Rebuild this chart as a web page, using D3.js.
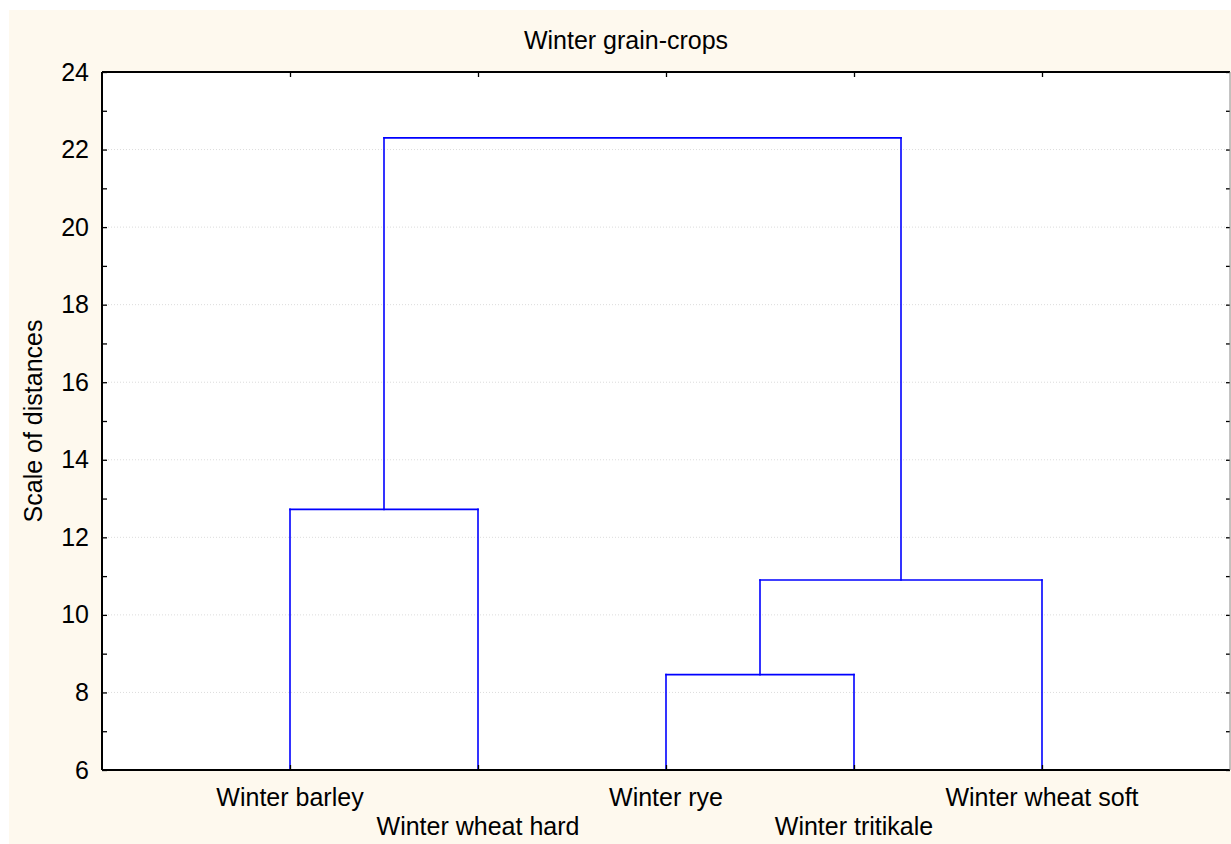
<!DOCTYPE html>
<html>
<head>
<meta charset="utf-8">
<script src="https://cdn.jsdelivr.net/npm/d3@7"></script>
<style>
  body { margin: 0; background: #fff; }
  text { font-family: Arial, "Liberation Sans", sans-serif; fill: #000; }
</style>
</head>
<body>
<div class="container"></div>
<script>
// leaves in dendrogram order
var leafNames = ["Winter barley", "Winter wheat hard", "Winter rye", "Winter tritikale", "Winter wheat soft"];
// linkage: node ids 0-4 are leaves, each merge makes a new node 5, 6, ...
var mergeLeft = [0, 2, 6, 5];
var mergeRight = [1, 3, 4, 7];
var mergeHeight = [12.72, 8.46, 10.90, 22.30];
var majorTicks = [6, 8, 10, 12, 14, 16, 18, 20, 22, 24];
var minorTicks = [7, 9, 11, 13, 15, 17, 19, 21, 23];

var W = 1231, H = 844;
var pLeft = 102, pRight = 1230, pTop = 72, pBottom = 770;

var svg = d3.select(".container").append("svg")
  .attr("width", W).attr("height", H);

svg.append("rect")
  .attr("x", 9).attr("y", 10).attr("width", W - 9).attr("height", H - 10)
  .style("fill", "#fef9ee");

svg.append("rect")
  .attr("x", pLeft).attr("y", pTop).attr("width", pRight - pLeft).attr("height", pBottom - pTop)
  .style("fill", "#fff");

var x = d3.scaleLinear().domain([0, leafNames.length + 1]).range([pLeft, pRight]);
var y = d3.scaleLinear().domain([6, 24]).range([pBottom, pTop]);

// grid
svg.selectAll("line.grid")
  .data(majorTicks.slice(1, -1))
  .enter()
  .append("line")
  .attr("x1", pLeft).attr("x2", pRight)
  .attr("y1", function(d) { return y(d) })
  .attr("y2", function(d) { return y(d) })
  .style("stroke", "#dcdcdc")
  .style("stroke-width", 1)
  .style("stroke-dasharray", "1,2");

// node positions
var nodeX = leafNames.map(function(d, i) { return x(i + 1) });
var nodeH = leafNames.map(function() { return 6 });
var segs = [];
mergeHeight.forEach(function(h, k) {
  var a = mergeLeft[k], b = mergeRight[k];
  segs.push([nodeX[a], y(nodeH[a]), nodeX[a], y(h)]);
  segs.push([nodeX[b], y(nodeH[b]), nodeX[b], y(h)]);
  segs.push([nodeX[a], y(h), nodeX[b], y(h)]);
  nodeX.push((nodeX[a] + nodeX[b]) / 2);
  nodeH.push(h);
});

svg.selectAll("line.link")
  .data(segs)
  .enter()
  .append("line")
  .attr("x1", function(d) { return d[0] })
  .attr("y1", function(d) { return d[1] })
  .attr("x2", function(d) { return d[2] })
  .attr("y2", function(d) { return d[3] })
  .style("stroke", "#0000ff")
  .style("stroke-width", 1.6)
  .style("stroke-linecap", "square");

// axes
var yAxis = svg.append("g")
  .attr("transform", "translate(" + pLeft + ",0)")
  .call(d3.axisLeft(y).tickValues(majorTicks).tickSizeInner(-5).tickSizeOuter(0).tickPadding(13));
yAxis.select(".domain").remove();
yAxis.selectAll("text").style("font-size", "25px").style("font-family", "Arial, 'Liberation Sans', sans-serif");
yAxis.selectAll("line").style("stroke", "#000").style("stroke-width", 1.3);

var yMinor = svg.append("g")
  .attr("transform", "translate(" + pLeft + ",0)")
  .call(d3.axisLeft(y).tickValues(minorTicks).tickSizeInner(-5).tickSizeOuter(0).tickFormat(""));
yMinor.select(".domain").remove();
yMinor.selectAll("line").style("stroke", "#000").style("stroke-width", 1.3);

var yRight = svg.append("g")
  .attr("transform", "translate(" + pRight + ",0)")
  .call(d3.axisRight(y).tickValues(majorTicks.concat(minorTicks)).tickSizeInner(-4).tickSizeOuter(0).tickFormat(""));
yRight.select(".domain").remove();
yRight.selectAll("line").style("stroke", "#000").style("stroke-width", 1.3);

var leafTicks = leafNames.map(function(d, i) { return i + 1 });
var xTop = svg.append("g")
  .attr("transform", "translate(0," + pTop + ")")
  .call(d3.axisTop(x).tickValues(leafTicks).tickSizeInner(-5).tickSizeOuter(0).tickFormat(""));
xTop.select(".domain").remove();
xTop.selectAll("line").style("stroke", "#000").style("stroke-width", 1.3);

var xBottom = svg.append("g")
  .attr("transform", "translate(0," + pBottom + ")")
  .call(d3.axisBottom(x).tickValues(leafTicks).tickSizeInner(-5).tickSizeOuter(0).tickFormat(""));
xBottom.select(".domain").remove();
xBottom.selectAll("line").style("stroke", "#000").style("stroke-width", 1.3);

// frame
svg.append("line").attr("x1", pLeft).attr("x2", pRight).attr("y1", pTop).attr("y2", pTop)
  .style("stroke", "#000").style("stroke-width", 2);
svg.append("line").attr("x1", pLeft).attr("x2", pRight).attr("y1", pBottom).attr("y2", pBottom)
  .style("stroke", "#000").style("stroke-width", 2);
svg.append("line").attr("x1", pLeft).attr("x2", pLeft).attr("y1", pTop).attr("y2", pBottom)
  .style("stroke", "#000").style("stroke-width", 2);
svg.append("line").attr("x1", pRight).attr("x2", pRight).attr("y1", pTop).attr("y2", pBottom)
  .style("stroke", "#888").style("stroke-width", 1);

// leaf labels, staggered on two rows
svg.selectAll("text.leaf")
  .data(leafNames)
  .enter()
  .append("text")
  .attr("class", "leaf")
  .attr("x", function(d, i) { return x(i + 1) })
  .attr("y", function(d, i) { return i % 2 == 0 ? 806 : 835 })
  .attr("text-anchor", "middle")
  .style("font-size", "25px")
  .text(function(d) { return d });

svg.append("text")
  .attr("x", 626).attr("y", 49)
  .attr("text-anchor", "middle")
  .style("font-size", "25px")
  .text("Winter grain-crops");

svg.append("text")
  .attr("transform", "translate(42," + (pTop + pBottom) / 2 + ") rotate(-90)")
  .attr("text-anchor", "middle")
  .style("font-size", "25px")
  .text("Scale of distances");
</script>
</body>
</html>
